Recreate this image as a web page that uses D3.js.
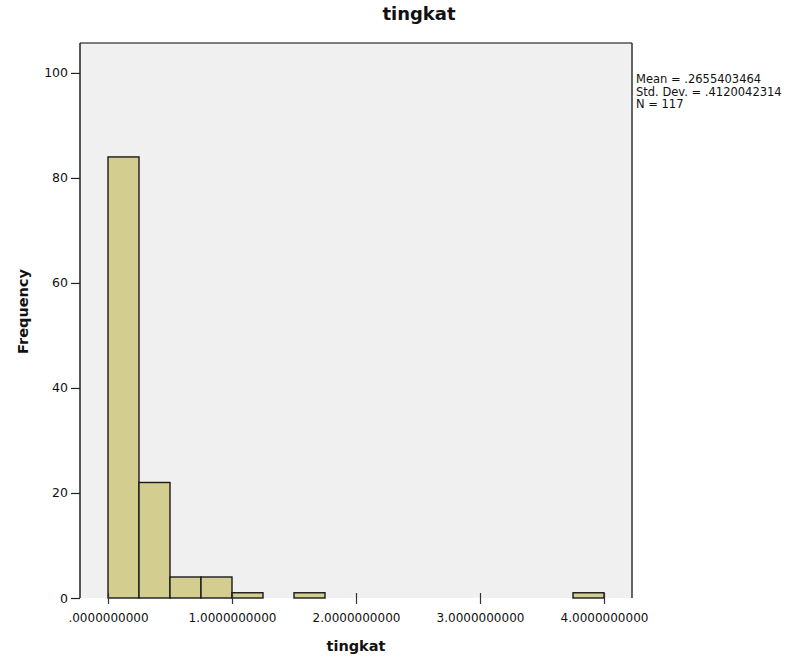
<!DOCTYPE html>
<html>
<head>
<meta charset="utf-8">
<script src="https://cdn.jsdelivr.net/npm/d3@7"></script>
<style>
  html, body { margin: 0; padding: 0; background: #ffffff; }
  svg { display: block; }
</style>
</head>
<body>
<svg id="chart" width="803" height="664"></svg>
<script>
// ---- data ----
const binStart = [0, 0.25, 0.5, 0.75, 1.0, 1.5, 3.75];
const binEnd   = [0.25, 0.5, 0.75, 1.0, 1.25, 1.75, 4.0];
const frequency = [84, 22, 4, 4, 1, 1, 1];
const xTickValues = [0, 1, 2, 3, 4];
const xTickLabels = [".0000000000", "1.0000000000", "2.0000000000", "3.0000000000", "4.0000000000"];
const yTickValues = [0, 20, 40, 60, 80, 100];
const statsLines = ["Mean = .2655403464", "Std. Dev. = .4120042314", "N = 117"];
const chartTitle = "tingkat";
const xTitle = "tingkat";
const yTitle = "Frequency";

// ---- layout ----
const pL = 80, pR = 632, pT = 43, pB = 598;
const svg = d3.select("#chart");

const x = d3.scaleLinear().domain([-0.2258, 4.2258]).range([pL, pR]);
const y = d3.scaleLinear().domain([0, 105.7]).range([pB, pT]);

// plot background
svg.append("rect")
  .attr("x", pL).attr("y", pT)
  .attr("width", pR - pL).attr("height", pB - pT)
  .attr("fill", "#f0f0f0");

// bars
svg.append("g").selectAll("rect")
  .data(frequency)
  .join("rect")
  .attr("x", (d, i) => x(binStart[i]))
  .attr("width", (d, i) => x(binEnd[i]) - x(binStart[i]))
  .attr("y", d => y(d))
  .attr("height", d => y(0) - y(d))
  .attr("fill", "#d3ce90")
  .attr("stroke", "#1a1a1a")
  .attr("stroke-width", 1.4);

// frame lines (top, right)
svg.append("line").attr("x1", pL).attr("x2", pR).attr("y1", pT).attr("y2", pT)
  .attr("stroke", "#555").attr("stroke-width", 1.5);
svg.append("line").attr("x1", pR).attr("x2", pR).attr("y1", pT).attr("y2", pB)
  .attr("stroke", "#333").attr("stroke-width", 1.5);

// y axis
const yAxis = d3.axisLeft(y).tickValues(yTickValues).tickFormat(d3.format("d"))
  .tickSizeInner(9).tickSizeOuter(0).tickPadding(3);
const gy = svg.append("g").attr("transform", `translate(${pL},0)`).call(yAxis);
gy.select(".domain").attr("d", `M0,${pT}V${pB}`).attr("stroke", "#222").attr("stroke-width", 1.5);
gy.selectAll(".tick line").attr("stroke", "#222").attr("stroke-width", 1.2);
gy.selectAll(".tick text").attr("font-family", "DejaVu Sans").attr("font-size", 12.5).attr("fill", "#111");

// x axis
const xAxis = d3.axisBottom(x).tickValues(xTickValues).tickFormat((d, i) => xTickLabels[i])
  .tickSizeInner(6).tickSizeOuter(0).tickPadding(9);
const gx = svg.append("g").attr("transform", `translate(0,${pB})`).call(xAxis);
gx.select(".domain").remove();
gx.selectAll(".tick line").attr("y1", -5).attr("y2", 6).attr("stroke", "#333").attr("stroke-width", 1.2);
gx.selectAll(".tick text").attr("font-family", "DejaVu Sans").attr("font-size", 12).attr("fill", "#111");

// titles
svg.append("text").attr("x", 419).attr("y", 20).attr("text-anchor", "middle")
  .attr("font-family", "DejaVu Sans").attr("font-weight", "bold").attr("font-size", 18)
  .attr("fill", "#111").text(chartTitle);
svg.append("text").attr("x", (pL + pR) / 2).attr("y", 651).attr("text-anchor", "middle")
  .attr("font-family", "DejaVu Sans").attr("font-weight", "bold").attr("font-size", 14.5)
  .attr("fill", "#111").text(xTitle);
svg.append("text").attr("transform", `translate(28,${(pT + pB) / 2 - 9}) rotate(-90)`)
  .attr("text-anchor", "middle")
  .attr("font-family", "DejaVu Sans").attr("font-weight", "bold").attr("font-size", 14.5)
  .attr("fill", "#111").text(yTitle);

// stats legend
svg.append("g").selectAll("text")
  .data(statsLines)
  .join("text")
  .attr("x", 636)
  .attr("y", (d, i) => 83 + i * 12.5)
  .attr("font-family", "DejaVu Sans").attr("font-size", 11.5)
  .attr("fill", "#111")
  .text(d => d);
</script>
</body>
</html>
